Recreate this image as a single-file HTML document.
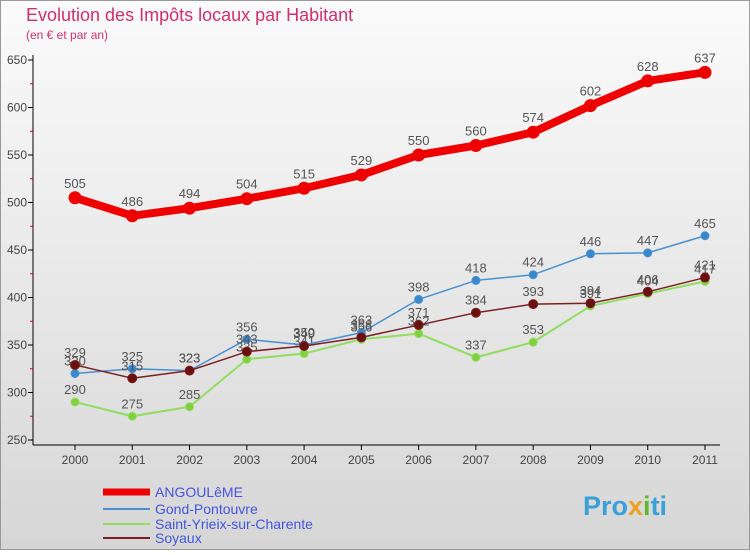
<!DOCTYPE html>
<html><head><meta charset="utf-8"><style>
body{margin:0;width:750px;height:550px;overflow:hidden;font-family:"Liberation Sans",sans-serif}
</style></head><body>
<svg id="c" width="750" height="550" xmlns="http://www.w3.org/2000/svg">
<defs><linearGradient id="bg" x1="0" y1="0" x2="0" y2="1"><stop offset="0" stop-color="#fbfbfb"/><stop offset="1" stop-color="#d6d6d6"/></linearGradient></defs>
<rect x="0.5" y="0.5" width="749" height="549" fill="url(#bg)" stroke="#999"/>
<text x="26" y="21" font-size="18" fill="#d0306a">Evolution des Impôts locaux par Habitant</text>
<text x="26" y="39" font-size="12" fill="#d0306a">(en € et par an)</text>
<g id="axes"></g><g id="series"></g>
<g font-size="14">
<line x1="103" y1="492" x2="150" y2="492" stroke="#e00" stroke-width="7"/><text x="155" y="497" fill="#4455dd">ANGOULêME</text>
<line x1="103" y1="509" x2="150" y2="509" stroke="#4a90d0" stroke-width="2"/><text x="155" y="514" fill="#4455dd">Gond-Pontouvre</text>
<line x1="103" y1="524" x2="150" y2="524" stroke="#90dd60" stroke-width="2"/><text x="155" y="529" fill="#4455dd">Saint-Yrieix-sur-Charente</text>
<line x1="103" y1="538" x2="150" y2="538" stroke="#7a2020" stroke-width="2"/><text x="155" y="543" fill="#4455dd">Soyaux</text>
</g>
<text x="583" y="515" font-size="27" font-weight="bold" fill="#3aa0d8">Pro<tspan fill="#f0a020">x</tspan><tspan fill="#60b830">i</tspan>ti</text>
</svg>
<script>
const years=["2000","2001","2002","2003","2004","2005","2006","2007","2008","2009","2010","2011"];
const yTicks=[250,300,350,400,450,500,550,600,650];
const angouleme=[505,486,494,504,515,529,550,560,574,602,628,637];
const gond=[320,325,323,356,350,363,398,418,424,446,447,465];
const yrieix=[290,275,285,335,341,356,362,337,353,391,404,417];
const soyaux=[329,315,323,343,349,358,371,384,393,394,406,421];
const NS="http://www.w3.org/2000/svg";
const xs=i=>75+i*(630/11);
const ys=v=>440-(v-250)*0.95;
function mk(t,a,p){const e=document.createElementNS(NS,t);for(const k in a)e.setAttribute(k,a[k]);p.appendChild(e);return e;}
const ax=document.getElementById('axes');
mk('line',{x1:33,y1:55,x2:33,y2:445,stroke:'#000'},ax);
mk('line',{x1:33,y1:445,x2:720,y2:445,stroke:'#000'},ax);
yTicks.forEach(v=>{
 const y=ys(v);
 mk('line',{x1:28,y1:y,x2:33,y2:y,stroke:'#000'},ax);
 if(v<650)mk('line',{x1:30,y1:ys(v+25),x2:33,y2:ys(v+25),stroke:'#e00'},ax);
 const t=mk('text',{x:27,y:y+4,'font-size':12,fill:'#444','text-anchor':'end'},ax);t.textContent=v;
 
 
});
years.forEach((yr,i)=>{
 const x=xs(i);
 mk('line',{x1:x,y1:445,x2:x,y2:450,stroke:'#000'},ax);
 const t=mk('text',{x:x,y:464,'font-size':12,fill:'#444','text-anchor':'middle'},ax);t.textContent=yr;
 
 
});
const sg=document.getElementById('series');
function series(name,data,color,w,r,dot){
 const g=mk('g',{},sg);
 
 
 mk('polyline',{points:data.map((v,i)=>xs(i)+','+ys(v)).join(' '),fill:'none',stroke:color,'stroke-width':w,'stroke-linejoin':'round'},g);
 data.forEach((v,i)=>{
  const c=mk('circle',{cx:xs(i),cy:ys(v),r:r,fill:dot,stroke:color,'stroke-width':1},g);
  
  
  const t=mk('text',{x:xs(i),y:ys(v)-(w>3?10:8),'font-size':13,fill:'#555','text-anchor':'middle'},g);t.textContent=v;
  
  
 });
}
series('series-saint-yrieix',yrieix,'#90dd60',2,4,'#80d040');
series('series-gond-pontouvre',gond,'#4a90d0',1.5,4,'#3a88cc');
series('series-soyaux',soyaux,'#7a2020',1.5,4.5,'#6a1010');
series('series-angouleme',angouleme,'#ee0000',8,6,'#ee0000');
</script>
</body></html>
